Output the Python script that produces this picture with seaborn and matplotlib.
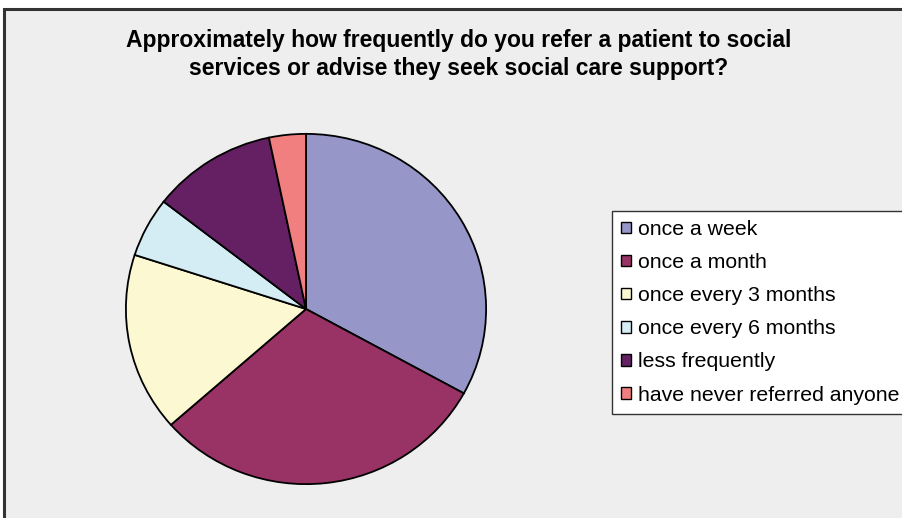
import matplotlib
matplotlib.use("Agg")
import matplotlib.pyplot as plt
from matplotlib.patches import Patch, Rectangle
import seaborn as sns

# Survey responses (share of respondents, %)
categories = [
    "once a week",
    "once a month",
    "once every 3 months",
    "once every 6 months",
    "less frequently",
    "have never referred anyone",
]
shares = [33.0, 30.5, 16.5, 5.5, 11.2, 3.3]
slice_colors = ["#9696C8", "#993366", "#FCF8D2", "#D4ECF4", "#642062", "#F27F80"]

title = ("Approximately how frequently do you refer a patient to social\n"
         "services or advise they seek social care support?")

sns.set_theme(style="white")
plt.rcParams["font.family"] = ["Liberation Sans", "DejaVu Sans"]

W, H = 902, 518
fig = plt.figure(figsize=(W / 100, H / 100), dpi=100, facecolor="white")

# chart area panel with dark frame
fig.patches.append(Rectangle((4 / W, -0.05), 1.1, (H - 9) / H + 0.05,
                             transform=fig.transFigure, facecolor="#EEEEEE",
                             edgecolor="#333333", linewidth=2.2, zorder=-5))

palette = sns.color_palette(slice_colors)

ax = fig.add_axes([125 / W, (H - 485) / H, 362 / W, 352 / H])
ax.set_zorder(2)
ax.pie(shares, colors=palette, startangle=90, counterclock=False,
       radius=1.0, wedgeprops=dict(edgecolor="black", linewidth=1.3))
ax.set_aspect("auto")
ax.set_xlim(-1.005, 1.005)
ax.set_ylim(-1.005, 1.005)
ax.set_axis_off()

fig.text(459 / W, 1 - 29 / H, title, ha="center", va="top",
         fontsize=16.5, fontweight="bold", color="black", linespacing=1.27,
         zorder=3)

handles = [Patch(facecolor=c, edgecolor="black", linewidth=1.0) for c in palette]
leg = fig.legend(handles, categories, loc="upper left",
                 bbox_to_anchor=(612 / W, 1 - 211 / H),
                 bbox_transform=fig.transFigure,
                 frameon=True, fancybox=False, framealpha=1.0, fontsize=15.3,
                 handlelength=0.47, handleheight=0.47, handletextpad=0.33,
                 labelspacing=0.665, borderpad=0.42, borderaxespad=0)
leg.set_zorder(3)
leg.get_frame().set_edgecolor("#333333")
leg.get_frame().set_facecolor("white")
leg.get_frame().set_linewidth(1.0)
for t in leg.get_texts():
    t.set_color("black")

fig.savefig("out.png", dpi=100, facecolor="white")
